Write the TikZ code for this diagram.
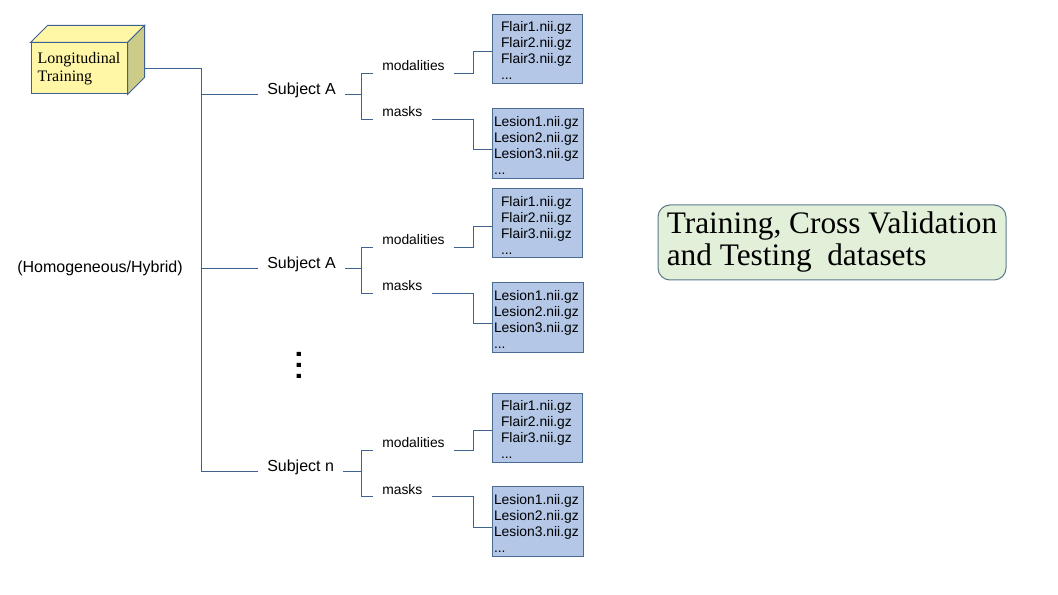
\documentclass[tikz,border=0pt]{standalone}
\usepackage{fontspec}
\setmainfont{Liberation Serif}
\setsansfont{Liberation Sans}
\definecolor{linkblue}{HTML}{3E6391}
\definecolor{boxline}{HTML}{4A6C94}
\definecolor{boxblue}{HTML}{B4C7E7}
\definecolor{cubeline}{HTML}{3C6192}
\definecolor{cubefront}{HTML}{FFF6A6}
\definecolor{cubeside}{HTML}{CCCC88}
\definecolor{greenline}{HTML}{5B7B8C}
\definecolor{greenfill}{HTML}{E2EFD9}

\begin{document}
\begin{tikzpicture}[x=0.75pt,y=-0.75pt,
	link/.style={draw=linkblue, line width=0.75pt},
	subj/.style={font=\sffamily\fontsize{12}{14.4}\selectfont, inner xsep=6.75pt, anchor=base west},
	label/.style={font=\sffamily\fontsize{10.4}{12}\selectfont, inner xsep=6.75pt, text height=7.5pt, text depth=12pt, anchor=west},
	flair/.style={draw=boxline, fill=boxblue, line width=0.75pt, font=\sffamily\fontsize{10.4}{12}\selectfont, align=left, inner xsep=6.75pt, inner ysep=1pt, text width=54pt, text height=10.5pt, minimum height=51.75pt},
	lesion/.style={draw=boxline, fill=boxblue, line width=0.75pt, font=\sffamily\fontsize{10.4}{12}\selectfont, align=left, inner xsep=1.5pt, inner ysep=1pt, text width=65.25pt, text height=10.5pt, minimum height=52.5pt}]
	\useasboundingbox (0,0) rectangle (1058,595);
	% cube
	\node [draw=cubeline, fill=cubefront, line width=0.75pt, minimum width=72pt, minimum height=38.25pt, align=left, font=\fontsize{12}{13.5}\selectfont] (T) at (79,68.5) {Longitudinal\\Training};
	\draw [draw=cubeline, fill=cubefront, line width=0.75pt] (T.north west) -- ++(17,-17) -- ([shift={(17,-17)}]T.north east) -- (T.north east) -- cycle;
	\draw [draw=cubeline, fill=cubeside, line width=0.75pt] (T.north east) -- ++(17,-17) -- ([shift={(17,-17)}]T.south east) -- (T.south east) -- cycle;
	\coordinate (Tout) at ([shift={(17,0)}]T.east);
	\coordinate (trunk) at (201,0);
	\coordinate (sub) at (361,0);
	\coordinate (file) at (473,0);
	\node [font=\sffamily\fontsize{12}{14.4}\selectfont, anchor=base] (H) at (100,273) {(Homogeneous/Hybrid)};
	\node [font=\sffamily\bfseries\fontsize{22}{24}\selectfont, rotate=90, inner sep=0pt] (D) at (299,365) {.\kern2.1pt.\kern2.1pt.};
	% subjects
	\node [subj] (S1) at (258,95) {Subject A};
	\node [subj] (S2) at (258,269) {Subject A};
	\node [subj] (S3) at (258,472) {Subject n};
	\node [label] (Mod1) at (373,74) {modalities};
	\node [label] (Mask1) at (373,120) {masks};
	\node [label] (Mod2) at (373,248) {modalities};
	\node [label] (Mask2) at (373,294) {masks};
	\node [label] (Mod3) at (373,451) {modalities};
	\node [label] (Mask3) at (373,497) {masks};
	% files
	\node [flair] (F1) at (537,49) {Flair1.nii.gz\\Flair2.nii.gz\\Flair3.nii.gz\\...};
	\node [lesion] (L1) at (537.5,144) {Lesion1.nii.gz\\Lesion2.nii.gz\\Lesion3.nii.gz\\...};
	\node [flair] (F2) at (537,223.5) {Flair1.nii.gz\\Flair2.nii.gz\\Flair3.nii.gz\\...};
	\node [lesion] (L2) at (537.5,318) {Lesion1.nii.gz\\Lesion2.nii.gz\\Lesion3.nii.gz\\...};
	\node [flair] (F3) at (537,428) {Flair1.nii.gz\\Flair2.nii.gz\\Flair3.nii.gz\\...};
	\node [lesion] (L3) at (537.5,521.5) {Lesion1.nii.gz\\Lesion2.nii.gz\\Lesion3.nii.gz\\...};
	\node [draw=greenline, fill=greenfill, line width=0.75pt, rounded corners=9pt, minimum width=261pt, minimum height=56.25pt, align=left, font=\fontsize{23.5}{24}\selectfont] (DS) at (832,242.5) {Training, Cross Validation\\and Testing\ \ datasets};
	% connectors
	\draw [link] (Tout) -- (Tout -| trunk) |- (S3.base west);
	\draw [link] (S1.base west -| trunk) -- (S1.base west);
	\draw [link] (S2.base west -| trunk) -- (S2.base west);
	\draw [link] (S1.base east) -- (S1.base east -| sub);
	\draw [link] (S2.base east) -- (S2.base east -| sub);
	\draw [link] (S3.base east) -- (S3.base east -| sub);
	\draw [link] (Mod1.west) -| (sub |- Mask1.west) -- (Mask1.west);
	\draw [link] (Mod2.west) -| (sub |- Mask2.west) -- (Mask2.west);
	\draw [link] (Mod3.west) -| (sub |- Mask3.west) -- (Mask3.west);
	\draw [link] (Mod1.east) -- (Mod1.east -| file) |- ([yshift=-2pt]F1.west);
	\draw [link] (Mask1.east) -- (Mask1.east -| file) |- ([yshift=-4.5pt]L1.west);
	\draw [link] (Mod2.east) -- (Mod2.east -| file) |- ([yshift=-2pt]F2.west);
	\draw [link] (Mask2.east) -- (Mask2.east -| file) |- ([yshift=-4.5pt]L2.west);
	\draw [link] (Mod3.east) -- (Mod3.east -| file) |- ([yshift=-2pt]F3.west);
	\draw [link] (Mask3.east) -- (Mask3.east -| file) |- ([yshift=-4.5pt]L3.west);
\end{tikzpicture}
\end{document}
